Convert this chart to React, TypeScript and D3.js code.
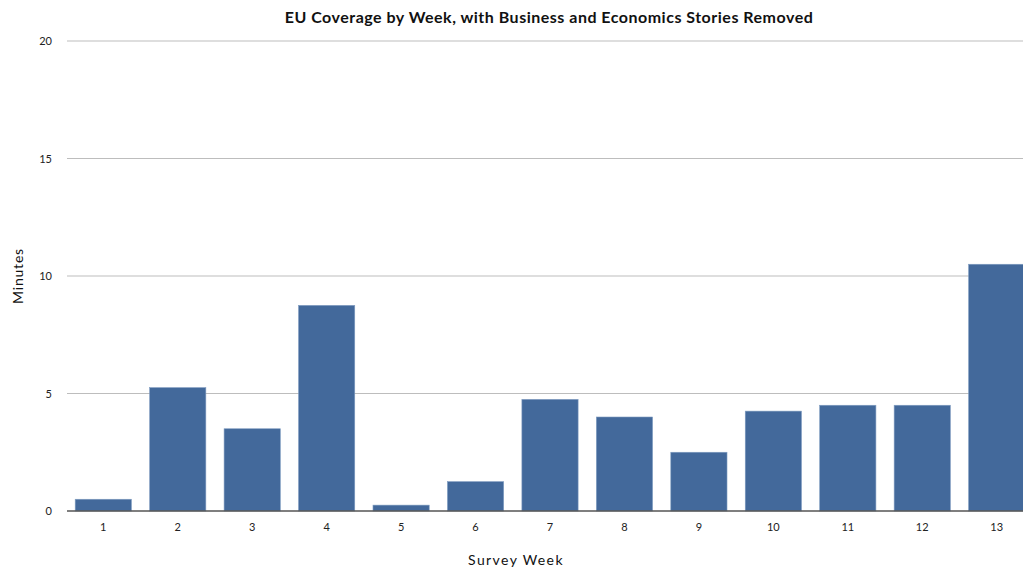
import React from "react";
import * as d3 from "d3";

const weeks = ["1", "2", "3", "4", "5", "6", "7", "8", "9", "10", "11", "12", "13"];
const minutes = [0.5, 5.25, 3.5, 8.75, 0.25, 1.25, 4.75, 4, 2.5, 4.25, 4.5, 4.5, 10.5];
const yTicks = [0, 5, 10, 15, 20];

const W = 1023, H = 570;
const left = 67, right = 1023, top = 41, bottom = 511;
const font = "Lato, 'Open Sans', sans-serif";

export default function App() {
  const x = d3.scaleBand<string>().domain(weeks).range([left, 1033]).paddingInner(0.245).paddingOuter(0.11);
  const y = d3.scaleLinear().domain([0, 20]).range([bottom, top]);
  return (
    <svg width={W} height={H} style={{ position: "absolute", left: 0, top: 0, background: "#fff" }}>
      <text x={549} y={23} textAnchor="middle" fontFamily={font} fontWeight="bold" fontSize={16} letterSpacing={0.5} fill="#111">
        EU Coverage by Week, with Business and Economics Stories Removed
      </text>
      {yTicks.map((t) => (
        <g key={t}>
          {t > 0 && <line x1={left} x2={right} y1={y(t)} y2={y(t)} stroke="#bdbdbd" strokeWidth={1} />}
          <text x={52} y={y(t) + 4} textAnchor="end" fontFamily={font} fontSize={11} fill="#222">{t}</text>
        </g>
      ))}
      {weeks.map((w, i) => (
        <rect key={w} x={x(w)!} y={y(minutes[i])} width={x.bandwidth()} height={bottom - y(minutes[i])}
          fill="#43699b" stroke="#7f9cc0" strokeWidth={0.6} />
      ))}
      <line x1={left} x2={right} y1={bottom} y2={bottom} stroke="#555" strokeWidth={1.5} />
      {weeks.map((w) => (
        <text key={w} x={x(w)! + x.bandwidth() / 2} y={531} textAnchor="middle" fontFamily={font} fontSize={11} fill="#222">{w}</text>
      ))}
      <text x={516} y={565} textAnchor="middle" fontFamily={font} fontSize={14} fill="#111" letterSpacing={1.4}>Survey Week</text>
      <text transform={`translate(23,276) rotate(-90)`} textAnchor="middle" fontFamily={font} fontSize={14} fill="#111" letterSpacing={0.8}>Minutes</text>
    </svg>
  );
}
